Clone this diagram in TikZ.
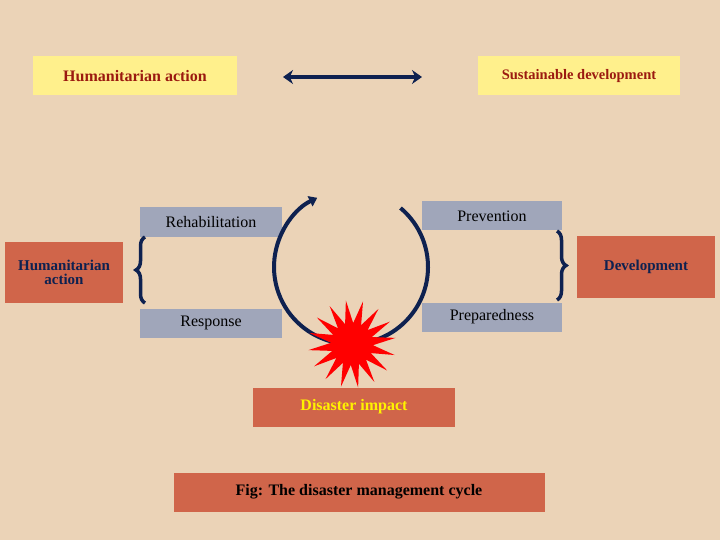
\documentclass[tikz,border=0pt]{standalone}
\usepackage{fontspec}
\setmainfont{Liberation Serif}
\usetikzlibrary{shapes.geometric,arrows.meta,decorations.pathreplacing}
\definecolor{bg}{HTML}{EBD3B7}
\definecolor{ylw}{HTML}{FFF08C}
\definecolor{gry}{HTML}{A0A6BA}
\definecolor{rst}{HTML}{D0654A}
\definecolor{navy}{HTML}{0E2150}
\definecolor{dred}{HTML}{9B1A10}
\tikzset{
  ybox/.style={fill=ylw,text=dred,font=\bfseries\fontsize{16}{18}\selectfont},
  gbox/.style={fill=gry,text=black,font=\fontsize{16}{18}\selectfont},
  rbox/.style={fill=rst,font=\bfseries\fontsize{15}{15}\selectfont,align=center}
}
\begin{document}
\begin{tikzpicture}[x=1pt,y=-1pt]
\fill[bg] (0,0) rectangle (720,540);
\useasboundingbox (0,0) rectangle (720,540);
\node[ybox,minimum width=204,minimum height=39] (ha) at (135,76) {Humanitarian action};
\node[ybox,minimum width=202,minimum height=39,font=\bfseries\fontsize{14.5}{16}\selectfont] (sd) at (579,76) {Sustainable development};
\coordinate (a1) at (283,77);
\coordinate (a2) at (422,77);
\draw[navy,line width=4pt,{Stealth[length=10pt,width=14pt]}-{Stealth[length=10pt,width=14pt]}] (a1) -- (a2);
\node[gbox,minimum width=142,minimum height=29] (reh) at (211,222) {Rehabilitation};
\node[gbox,minimum width=140,minimum height=29] (prev) at (492,216) {Prevention};
\node[gbox,minimum width=142,minimum height=29] (resp) at (211,323) {Response};
\node[gbox,minimum width=140,minimum height=29] (prep) at (492,317) {Preparedness};
\node[rbox,text=navy,minimum width=118,minimum height=61] (hal) at (64,272) {Humanitarian\\[-1pt]action};
\node[rbox,text=navy,minimum width=138,minimum height=62] (dev) at (646,267) {Development};
\draw[navy,line width=3.5pt,decorate,decoration={brace,amplitude=9pt}] (145,303) -- (145,237);
\draw[navy,line width=3.5pt,decorate,decoration={brace,amplitude=9pt}] (557,231) -- (557,300);
\coordinate (c) at (351,267);
\draw[navy,line width=4pt,-{Triangle[length=8pt,width=11pt]}] ([shift={(-50:77)}]c) arc[start angle=-50,end angle=244,radius=77];
\node[star,star points=16,star point ratio=2.1,fill=red,minimum size=88,rotate=8] (burst) at (352,344) {};
\node[rbox,text=yellow,font=\bfseries\fontsize{16}{18}\selectfont,minimum width=202,minimum height=39] (di) at (354,407) {Disaster impact};
\node[rbox,text=black,font=\bfseries\fontsize{16}{18}\selectfont,minimum width=371,minimum height=39] (fig) at (359,492) {Fig: The disaster management cycle};
\end{tikzpicture}
\end{document}
